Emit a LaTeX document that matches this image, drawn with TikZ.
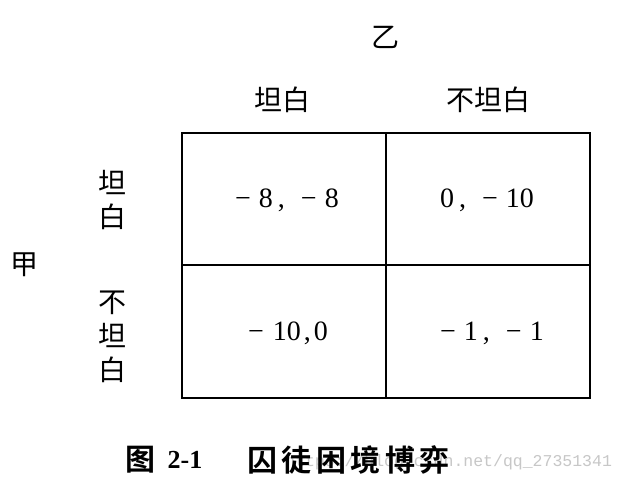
\documentclass[tikz,border=0pt]{standalone}
\usepackage{fontspec}
\setmainfont{Liberation Serif}
\setmonofont{Liberation Mono}
\newfontfamily\cjk{Noto Sans CJK SC}[BoldFont=Noto Sans CJK SC Bold]
\newfontfamily\cjkcap{Noto Sans CJK SC Bold}[LetterSpace=15]
\begin{document}
\begin{tikzpicture}[x=1pt,y=-1pt,
  grid/.style={line width=1.8pt, draw=black},
  lbl/.style={inner sep=0pt, font=\cjk\fontsize{28}{34}\selectfont, align=center},
  pay/.style={inner sep=0pt, font=\fontsize{28}{32}\selectfont},
]
\fill[white] (0,0) rectangle (626,489);
\useasboundingbox (0,0) rectangle (626,489);
% grid
\coordinate (tl) at (182,133);
\coordinate (br) at (590,398);
\coordinate (tm) at (386,133);
\coordinate (bm) at (386,398);
\coordinate (ml) at (182,265);
\coordinate (mr) at (590,265);
\draw[grid] (tl) rectangle (br);
\draw[grid] (tm) -- (bm);
\draw[grid] (ml) -- (mr);
% labels
\node[lbl] (yi) at (385,37) {乙};
\node[lbl] (colA) at (282,100) {坦白};
\node[lbl] (colB) at (488,100) {不坦白};
\node[lbl] (jia) at (24,265) {甲};
\node[lbl] (rowA) at (112,200) {坦\\白};
\node[lbl] (rowB) at (112,337) {不\\坦\\白};
% payoffs
\node[pay] (p11) at (287,200) {−\hspace{8pt}8\hspace{5pt},\hspace{16pt}−\hspace{8pt}8};
\node[pay] (p12) at (487,200) {0\hspace{5pt},\hspace{16pt}−\hspace{8pt}10};
\node[pay] (p21) at (288,333) {−\hspace{9pt}10\hspace{3pt},\hspace{3pt}0};
\node[pay] (p22) at (492,333) {−\hspace{8pt}1\hspace{5pt},\hspace{16pt}−\hspace{8pt}1};
% watermark
\node[inner sep=0pt, anchor=base west, text=black!22, font=\ttfamily\fontsize{16.5}{20}\selectfont] (wm) at (285,466) {https://blog.csdn.net/qq\_27351341};
% caption
\node[inner sep=0pt, font=\cjk\bfseries\fontsize{30}{34}\selectfont] (fig) at (140,460) {图};
\node[inner sep=0pt, font=\bfseries\fontsize{26}{30}\selectfont] (num) at (185,460) {2-1};
\node[inner sep=0pt, anchor=west, font=\cjkcap\fontsize{30}{34}\selectfont] (cap) at (247,460) {囚徒困境博弈};
\end{tikzpicture}
\end{document}
